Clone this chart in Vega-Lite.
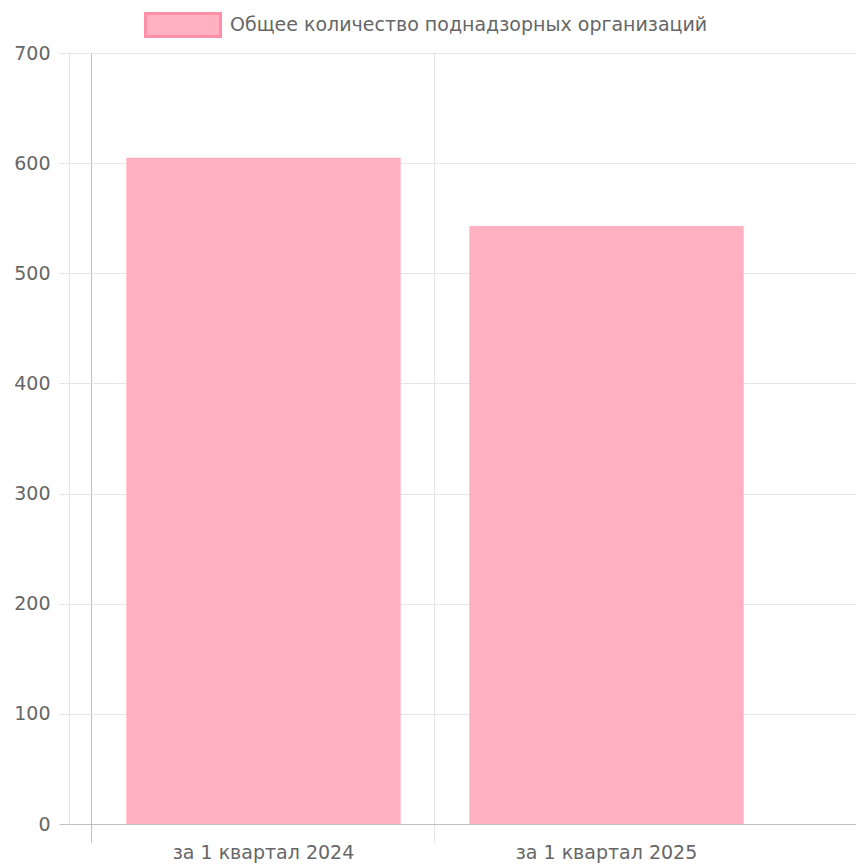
{
  "$schema": "https://vega.github.io/schema/vega-lite/v6.json",
  "width": 787,
  "height": 771,
  "autosize": "none",
  "padding": {"left": 69, "top": 53, "right": 0, "bottom": 40},
  "background": "white",
  "config": {
    "view": {"stroke": null},
    "font": "DejaVu Sans"
  },
  "data": {
    "values": [
      {"period": "за 1 квартал 2024", "count": 605, "series": "Общее количество поднадзорных организаций"},
      {"period": "за 1 квартал 2025", "count": 543, "series": "Общее количество поднадзорных организаций"}
    ]
  },
  "mark": {"type": "bar", "width": {"band": 0.8}},
  "encoding": {
    "x": {
      "field": "period",
      "type": "nominal",
      "sort": null,
      "scale": {"paddingInner": 0, "paddingOuter": 0.14723, "align": 0.2277},
      "axis": {
        "title": null,
        "labelAngle": 0,
        "labelLimit": 1000,
        "bandPosition": 0,
        "grid": true,
        "gridColor": {"condition": {"test": "datum.value === 'за 1 квартал 2024'", "value": "#bfbfbf"}, "value": "#e6e6e6"},
        "gridWidth": 1,
        "ticks": true,
        "tickSize": 18,
        "tickColor": {"condition": {"test": "datum.value === 'за 1 квартал 2024'", "value": "#bfbfbf"}, "value": "#e6e6e6"},
        "domain": true,
        "domainColor": "#bfbfbf",
        "labelFont": "DejaVu Sans",
        "labelFontSize": 19,
        "labelColor": "#666666",
        "labelPadding": 1
      }
    },
    "y": {
      "field": "count",
      "type": "quantitative",
      "scale": {"domain": [0, 700], "nice": false},
      "axis": {
        "title": null,
        "values": [0, 100, 200, 300, 400, 500, 600, 700],
        "grid": true,
        "gridColor": {"condition": {"test": "datum.value === 0", "value": "#bfbfbf"}, "value": "#e6e6e6"},
        "tickColor": {"condition": {"test": "datum.value === 0", "value": "#bfbfbf"}, "value": "#e6e6e6"},
        "tickSize": 10,
        "domain": true,
        "domainColor": "#e6e6e6",
        "labelFont": "DejaVu Sans",
        "labelFontSize": 19,
        "labelColor": "#666666",
        "labelPadding": 9
      }
    },
    "color": {
      "field": "series",
      "type": "nominal",
      "scale": {"range": ["#ffb1c1"]},
      "legend": {
        "title": null,
        "orient": "none",
        "legendX": 75,
        "legendY": -67,
        "padding": 0,
        "symbolType": "M-1,-0.307H1V0.307H-1Z",
        "symbolSize": 5625,
        "symbolStrokeColor": "#ff8fa8",
        "symbolStrokeWidth": 3,
        "symbolOpacity": 1,
        "labelFont": "DejaVu Sans",
        "labelFontSize": 19,
        "labelColor": "#666666",
        "labelOffset": 8,
        "labelLimit": 1000
      }
    }
  }
}
